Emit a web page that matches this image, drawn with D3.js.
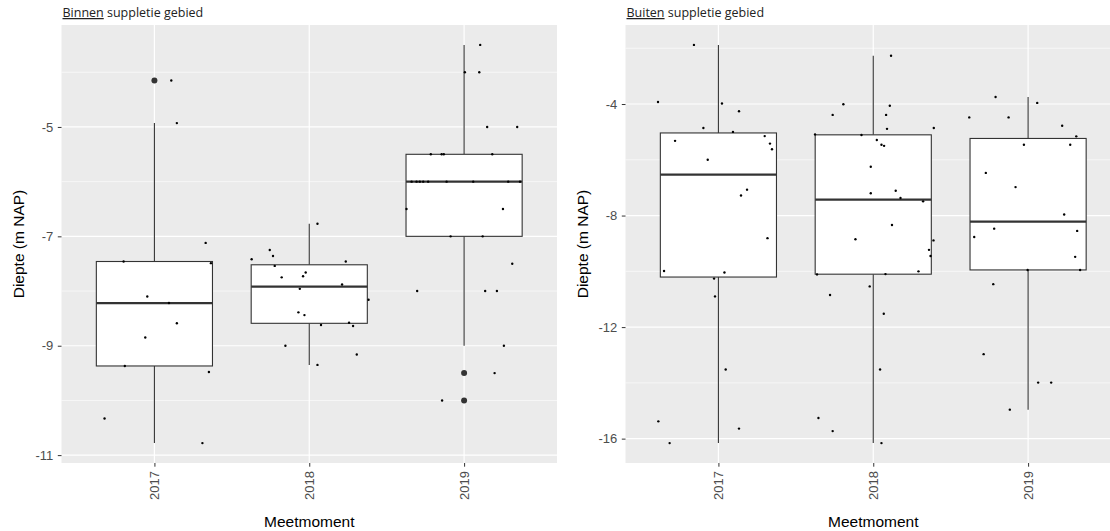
<!DOCTYPE html>
<html>
<head>
<meta charset="utf-8">
<script src="https://cdn.jsdelivr.net/npm/d3@7"></script>
<style>
  body { margin: 0; background: #fff; }
  svg { display: block; font-family: "Liberation Sans", Arial, sans-serif; }
  .tick line { stroke: #333; }
  .tick text { fill: #4d4d4d; font-size: 13px; }
  .title { font-family: "Open Sans", "Noto Sans", sans-serif; font-size: 12.5px; fill: #222; }
  .axisTitle { font-size: 15.5px; fill: #000; }
</style>
</head>
<body>
<div id="chart"></div>
<script>
// categories
const years = ["2017", "2018", "2019"];

// Binnen suppletie gebied: year, horizontal jitter (category units), depth (m NAP)
const binnenYear = [
  "2017","2017","2017","2017","2017","2017","2017","2017","2017","2017","2017","2017","2017",
  "2018","2018","2018","2018","2018","2018","2018","2018","2018","2018",
  "2018","2018","2018","2018","2018","2018","2018","2018","2018","2018",
  "2019","2019","2019","2019","2019","2019","2019","2019","2019","2019",
  "2019","2019","2019","2019","2019","2019","2019","2019","2019","2019",
  "2019","2019","2019","2019","2019","2019","2019","2019","2019"
];
const binnenJitter = [
  0.109, 0.145, 0.331, -0.199, 0.365, -0.046, 0.094, 0.145, -0.059, -0.191, 0.352, -0.322, 0.31,
  0.053, -0.255, -0.234, -0.372, 0.236, -0.223, -0.023, -0.04, -0.178, 0.212,
  -0.061, 0.383, -0.07, -0.031, 0.257, 0.076, 0.283, -0.154, 0.307, 0.053,
  0.104, 0.005, 0.098, 0.149, 0.343, -0.215, -0.145, -0.131, 0.182, -0.339,
  -0.307, -0.286, -0.264, -0.232, -0.113, 0.059, 0.285, 0.361, -0.372, 0.251,
  -0.087, 0.12, 0.311, -0.303, 0.136, 0.212, 0.257, 0.197, -0.142
];
const binnenDepth = [
  -4.15, -4.93, -7.12, -7.46, -7.49, -8.1, -8.22, -8.59, -8.85, -9.37, -9.48, -10.33, -10.78,
  -6.77, -7.25, -7.36, -7.42, -7.46, -7.54, -7.66, -7.73, -7.75, -7.88,
  -7.96, -8.16, -8.39, -8.44, -8.58, -8.62, -8.64, -9.0, -9.16, -9.35,
  -3.5, -4.0, -4.0, -5.0, -5.0, -5.5, -5.5, -5.5, -5.5, -6.0,
  -6.0, -6.0, -6.0, -6.0, -6.0, -6.0, -6.0, -6.0, -6.5, -6.5,
  -7.0, -7.0, -7.5, -8.0, -8.0, -8.0, -9.0, -9.5, -10.0
];

// Buiten suppletie gebied
const buitenYear = [
  "2017","2017","2017","2017","2017","2017","2017","2017","2017","2017","2017",
  "2017","2017","2017","2017","2017","2017","2017","2017","2017","2017","2017",
  "2018","2018","2018","2018","2018","2018","2018","2018","2018","2018","2018",
  "2018","2018","2018","2018","2018","2018","2018","2018","2018","2018","2018",
  "2018","2018","2018","2018","2018","2018","2018","2018","2018","2018",
  "2019","2019","2019","2019","2019","2019","2019","2019","2019","2019","2019",
  "2019","2019","2019","2019","2019","2019","2019","2019","2019","2019","2019"
];
const buitenJitter = [
  -0.158, -0.39, 0.023, 0.133, -0.097, 0.094, 0.299, -0.28, 0.333, 0.346, -0.069,
  0.185, 0.146, 0.317, -0.351, 0.039, -0.028, -0.022, 0.047, -0.388, 0.133, -0.315,
  -0.193, -0.262, -0.376, -0.115, 0.115, 0.107, 0.083, 0.089, 0.391, -0.076, 0.023,
  0.053, 0.07, -0.016, -0.016, 0.145, 0.176, 0.322, 0.121, 0.389, 0.36, 0.37,
  0.292, 0.079, -0.023, 0.068, 0.044, 0.053, -0.363, -0.279, -0.354, -0.262,
  -0.21, 0.059, -0.38, -0.126, 0.22, 0.311, -0.027, 0.272, -0.273, -0.081, 0.233,
  -0.219, -0.348, 0.317, 0.304, 0.336, -0.003, -0.225, -0.287, 0.065, 0.149, -0.118
];
const buitenDepth = [
  -1.88, -3.93, -3.98, -4.26, -4.86, -5.0, -5.15, -5.32, -5.42, -5.62, -6.0,
  -7.07, -7.28, -8.81, -9.99, -10.04, -10.26, -10.9, -13.52, -15.38, -15.64, -16.16,
  -4.01, -4.39, -5.09, -8.85, -2.27, -4.06, -4.39, -4.89, -4.86, -5.11, -5.29,
  -5.46, -5.5, -6.25, -7.2, -7.11, -7.37, -7.49, -8.34, -8.89, -9.23, -9.45,
  -10.0, -10.1, -10.54, -11.52, -13.52, -16.16, -10.11, -10.85, -15.26, -15.73,
  -3.75, -3.96, -4.48, -4.48, -4.78, -5.16, -5.46, -5.46, -6.47, -6.98, -7.96,
  -8.47, -8.77, -8.55, -9.48, -9.95, -9.95, -10.46, -12.97, -13.99, -13.99, -14.96
];

// tick labels
const binnenTicks = [-11, -9, -7, -5];
const binnenMinor = [-10, -8, -6, -4];
const buitenTicks = [-16, -12, -8, -4];
const buitenMinor = [-14, -10, -6, -2];

const width = 1110, height = 531;
const panelTop = 25, panelBottom = 463;

const svg = d3.select("#chart").append("svg")
    .attr("width", width)
    .attr("height", height);

function boxStats(values) {
    let v = values.slice().sort(d3.ascending);
    let q1 = d3.quantile(v, 0.25), med = d3.quantile(v, 0.5), q3 = d3.quantile(v, 0.75);
    let iqr = q3 - q1;
    let inside = v.filter(d => d >= q1 - 1.5 * iqr && d <= q3 + 1.5 * iqr);
    return {
        q1: q1, med: med, q3: q3,
        lo: d3.min(inside), hi: d3.max(inside),
        out: v.filter(d => d < q1 - 1.5 * iqr || d > q3 + 1.5 * iqr)
    };
}

function drawPanel(p) {
    let g = svg.append("g");
    let pts = p.year.map((y, i) => ({year: y, jit: p.jitter[i], depth: p.depth[i]}));

    let x = d3.scalePoint().domain(years).range([p.left, p.right]).padding(0.6);
    let ext = d3.extent(p.depth);
    let pad = (ext[1] - ext[0]) * 0.05;
    let y = d3.scaleLinear().domain([ext[0] - pad, ext[1] + pad]).range([panelBottom, panelTop]);
    let step = x.step();

    // title
    let t = g.append("text").attr("class", "title")
        .attr("x", p.left + 1).attr("y", 17);
    t.append("tspan").style("text-decoration", "underline").text(p.word);
    t.append("tspan").text(" suppletie gebied");

    // panel background + grid
    g.append("rect")
        .attr("x", p.left).attr("y", panelTop)
        .attr("width", p.right - p.left).attr("height", panelBottom - panelTop)
        .attr("fill", "#ebebeb");
    g.selectAll(".minor").data(p.minor).enter().append("line")
        .attr("x1", p.left).attr("x2", p.right)
        .attr("y1", d => y(d)).attr("y2", d => y(d))
        .attr("stroke", "#fff").attr("stroke-width", 0.6);
    g.selectAll(".major").data(p.ticks).enter().append("line")
        .attr("x1", p.left).attr("x2", p.right)
        .attr("y1", d => y(d)).attr("y2", d => y(d))
        .attr("stroke", "#fff").attr("stroke-width", 1.2);
    g.selectAll(".vmajor").data(years).enter().append("line")
        .attr("x1", d => x(d)).attr("x2", d => x(d))
        .attr("y1", panelTop).attr("y2", panelBottom)
        .attr("stroke", "#fff").attr("stroke-width", 1.2);

    // boxplots
    years.forEach(function(yr) {
        let s = boxStats(pts.filter(d => d.year == yr).map(d => d.depth));
        let cx = x(yr), bw = step * 0.75;
        g.append("line")
            .attr("x1", cx).attr("x2", cx).attr("y1", y(s.hi)).attr("y2", y(s.q3))
            .attr("stroke", "#333").attr("stroke-width", 1.1);
        g.append("line")
            .attr("x1", cx).attr("x2", cx).attr("y1", y(s.q1)).attr("y2", y(s.lo))
            .attr("stroke", "#333").attr("stroke-width", 1.1);
        g.append("rect")
            .attr("x", cx - bw / 2).attr("y", y(s.q3))
            .attr("width", bw).attr("height", y(s.q1) - y(s.q3))
            .attr("fill", "#fff").attr("stroke", "#333").attr("stroke-width", 1.1);
        g.append("line")
            .attr("x1", cx - bw / 2).attr("x2", cx + bw / 2)
            .attr("y1", y(s.med)).attr("y2", y(s.med))
            .attr("stroke", "#333").attr("stroke-width", 2.2);
        g.selectAll(null).data(s.out).enter().append("circle")
            .attr("cx", cx).attr("cy", d => y(d)).attr("r", 3)
            .attr("fill", "#333");
    });

    // jittered points
    g.selectAll(".pt").data(pts).enter().append("circle")
        .attr("cx", d => x(d.year) + d.jit * step)
        .attr("cy", d => y(d.depth))
        .attr("r", 1.2)
        .attr("fill", "#000");

    // axes
    let ya = g.append("g")
        .attr("transform", "translate(" + p.left + ",0)")
        .call(d3.axisLeft(y).tickValues(p.ticks).tickFormat(d3.format("d")).tickSize(3.7).tickPadding(4.5));
    ya.select(".domain").remove();
    ya.selectAll("text").text(d => "-" + Math.abs(d));

    let xa = g.append("g")
        .attr("transform", "translate(0," + panelBottom + ")")
        .call(d3.axisBottom(x).tickSize(3.7).tickPadding(2.5));
    xa.select(".domain").remove();
    xa.selectAll("text")
        .attr("transform", "rotate(-90)")
        .attr("text-anchor", "end")
        .attr("x", -8).attr("y", 0).attr("dy", "0.35em");

    g.append("text").attr("class", "axisTitle")
        .attr("text-anchor", "middle")
        .attr("x", (p.left + p.right) / 2)
        .attr("y", 527)
        .text("Meetmoment");
    g.append("text").attr("class", "axisTitle")
        .attr("text-anchor", "middle")
        .attr("transform", "translate(" + (p.left - 38) + "," + ((panelTop + panelBottom) / 2) + ") rotate(-90)")
        .text("Diepte (m NAP)");
}

drawPanel({left: 61.5, right: 557, word: "Binnen",
    year: binnenYear, jitter: binnenJitter, depth: binnenDepth,
    ticks: binnenTicks, minor: binnenMinor});
drawPanel({left: 625.5, right: 1121, word: "Buiten",
    year: buitenYear, jitter: buitenJitter, depth: buitenDepth,
    ticks: buitenTicks, minor: buitenMinor});
</script>
</body>
</html>
